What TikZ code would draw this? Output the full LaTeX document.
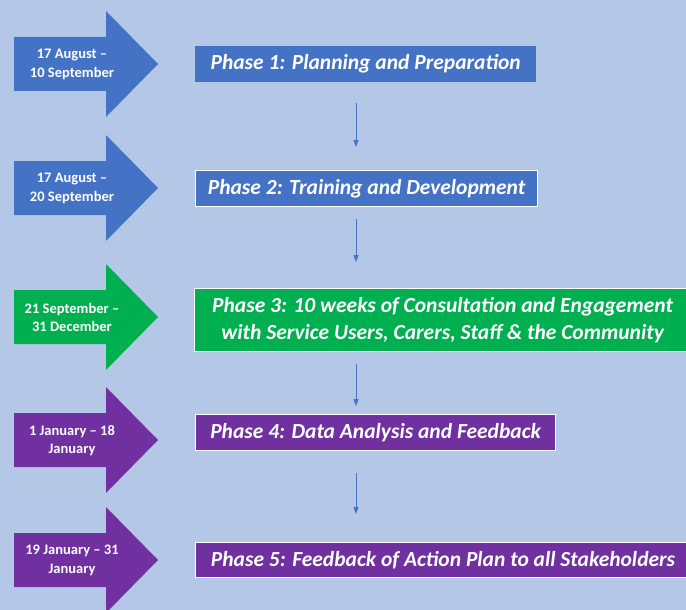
\documentclass[tikz,border=0pt]{standalone}
\usepackage{fontspec}
\setmainfont{Carlito}
\usetikzlibrary{arrows.meta}
\definecolor{bgcol}{HTML}{B4C7E7}
\definecolor{pblue}{HTML}{4472C4}
\definecolor{pgreen}{HTML}{00B050}
\definecolor{ppurple}{HTML}{7030A0}
\tikzset{
  datearrow/.pic={\fill[pic actions] (14,-27) -- (106,-27) -- (106,-53) -- (158,0) -- (106,53) -- (106,27) -- (14,27) -- cycle;},
  datetext/.style={text=white, font=\fontsize{14.5}{18.5}\selectfont\bfseries, align=center, inner sep=0pt},
  phasebox/.style={fill=#1, text=white, font=\fontsize{21.5}{27}\selectfont\bfseries\itshape, align=center, inner sep=0pt, anchor=north west},
  wborder/.style={draw=white, line width=1.2pt},
  conn/.style={draw=pblue, line width=0.9pt, -{Triangle[width=5pt,length=7pt]}}
}
\begin{document}
\begin{tikzpicture}[x=1pt,y=-1pt]
\useasboundingbox[fill=bgcol] (0,0) rectangle (686,610);
% date arrows
\pic[fill=pblue] at (0,64) {datearrow};
\pic[fill=pblue] at (0,188) {datearrow};
\pic[fill=pgreen] at (0,317) {datearrow};
\pic[fill=ppurple] at (0,440) {datearrow};
\pic[fill=ppurple] at (0,560) {datearrow};
\node[datetext] (d1) at (72,64.5) {17 August –\\10 September};
\node[datetext] (d2) at (72,188.5) {17 August –\\20 September};
\node[datetext] (d3) at (72,317.5) {21 September –\\31 December};
\node[datetext] (d4) at (72,440.5) {1 January – 18\\January};
\node[datetext] (d5) at (72,560.5) {19 January – 31\\January};
% phase boxes
\node[phasebox=pblue, minimum width=341pt, minimum height=36pt] (b1) at (195,46) {Phase 1: Planning and Preparation};
\node[phasebox=pblue, wborder, minimum width=342pt, minimum height=36pt] (b2) at (195,170) {Phase 2: Training and Development};
\node[phasebox=pgreen, wborder, minimum width=496pt, minimum height=63pt] (b3) at (194,288) {Phase 3: 10 weeks of Consultation and Engagement\\with Service Users, Carers, Staff \& the Community};
\node[phasebox=ppurple, wborder, minimum width=360pt, minimum height=36pt] (b4) at (195,414) {Phase 4: Data Analysis and Feedback};
\node[phasebox=ppurple, wborder, minimum width=495pt, minimum height=35pt] (b5) at (195,542) {Phase 5: Feedback of Action Plan to all Stakeholders};
% connectors
\coordinate (cx) at (356,0);
\draw[conn, shorten <=21pt, shorten >=23pt] (b1.south -| cx) -- (b2.north -| cx);
\draw[conn, shorten <=12pt, shorten >=26pt] (b2.south -| cx) -- (b3.north -| cx);
\draw[conn, shorten <=12pt, shorten >=8pt] (b3.south -| cx) -- (b4.north -| cx);
\draw[conn, shorten <=22pt, shorten >=28pt] (b4.south -| cx) -- (b5.north -| cx);
\end{tikzpicture}
\end{document}
